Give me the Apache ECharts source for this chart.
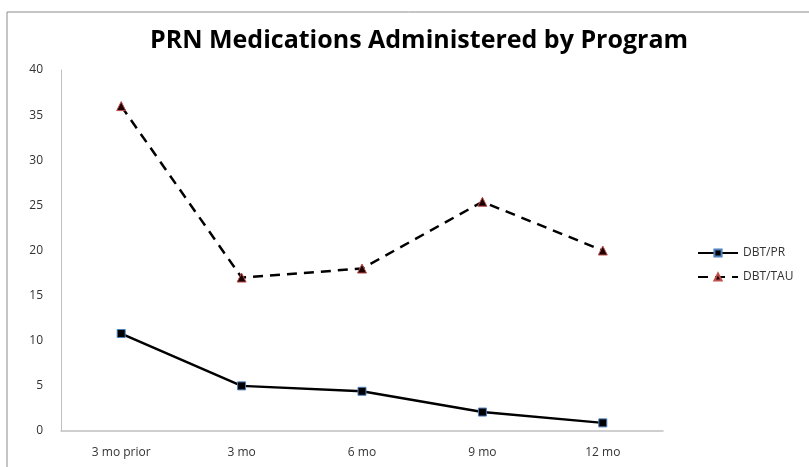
<!DOCTYPE html>
<html>
<head>
<meta charset="utf-8">
<script src="https://cdn.jsdelivr.net/npm/echarts@6/dist/echarts.min.js"></script>
<style>
  html, body { margin: 0; padding: 0; background: #fff; }
  #chart { width: 809px; height: 467px; }
</style>
</head>
<body>
<div id="chart"></div>
<script>
const categories = ['3 mo prior', '3 mo', '6 mo', '9 mo', '12 mo']
const dbtPr = [10.8, 5.0, 4.4, 2.1, 0.9]
const dbtTau = [36, 17, 18, 25.4, 20]
const yTicks = { min: 0, max: 40, interval: 5 }

const font = '"Open Sans", "Noto Sans", sans-serif'
const axisGray = '#c0c0c0'
const labelInk = '#333'

const chart = echarts.init(document.getElementById('chart'), null, { renderer: 'canvas' })

chart.setOption({
  animation: false,
  backgroundColor: '#fff',
  textStyle: { fontFamily: font },
  graphic: [
    {
      type: 'rect',
      shape: { x: 7, y: 12, width: 900, height: 600 },
      style: { fill: 'none', stroke: '#8c8c8c', lineWidth: 1 },
      silent: true
    }
  ],
  title: {
    text: 'PRN Medications Administered by Program',
    left: 414,
    top: 23,
    textAlign: 'center',
    textStyle: { fontFamily: font, fontSize: 25, fontWeight: 'bold', color: '#000' }
  },
  legend: {
    orient: 'vertical',
    left: 692,
    top: 242,
    itemWidth: 40,
    itemHeight: 9,
    itemGap: 12,
    textStyle: { fontFamily: font, fontSize: 12, color: labelInk },
    data: ['DBT/PR', 'DBT/TAU']
  },
  grid: { left: 61, right: 146, top: 70, bottom: 36 },
  xAxis: {
    type: 'category',
    data: categories,
    boundaryGap: true,
    axisLine: { lineStyle: { color: axisGray, width: 1.5 } },
    axisTick: { show: false },
    axisLabel: { color: labelInk, fontSize: 12, margin: 16 },
    splitLine: { show: false }
  },
  yAxis: {
    type: 'value',
    min: yTicks.min,
    max: yTicks.max,
    interval: yTicks.interval,
    axisLine: { show: true, lineStyle: { color: axisGray, width: 1 } },
    axisTick: { show: false },
    axisLabel: { color: labelInk, fontSize: 12, margin: 18 },
    splitLine: { show: false }
  },
  series: [
    {
      name: 'DBT/PR',
      type: 'line',
      data: dbtPr,
      symbol: 'rect',
      symbolSize: 8,
      lineStyle: { color: '#000', width: 2.5 },
      itemStyle: { color: '#000', borderColor: '#4f81bd', borderWidth: 1 }
    },
    {
      name: 'DBT/TAU',
      type: 'line',
      data: dbtTau,
      symbol: 'triangle',
      symbolSize: 9,
      lineStyle: { color: '#000', width: 2.5, type: [10, 7] },
      itemStyle: { color: '#1a0000', borderColor: '#c0504d', borderWidth: 1 }
    }
  ]
})
</script>
</body>
</html>
